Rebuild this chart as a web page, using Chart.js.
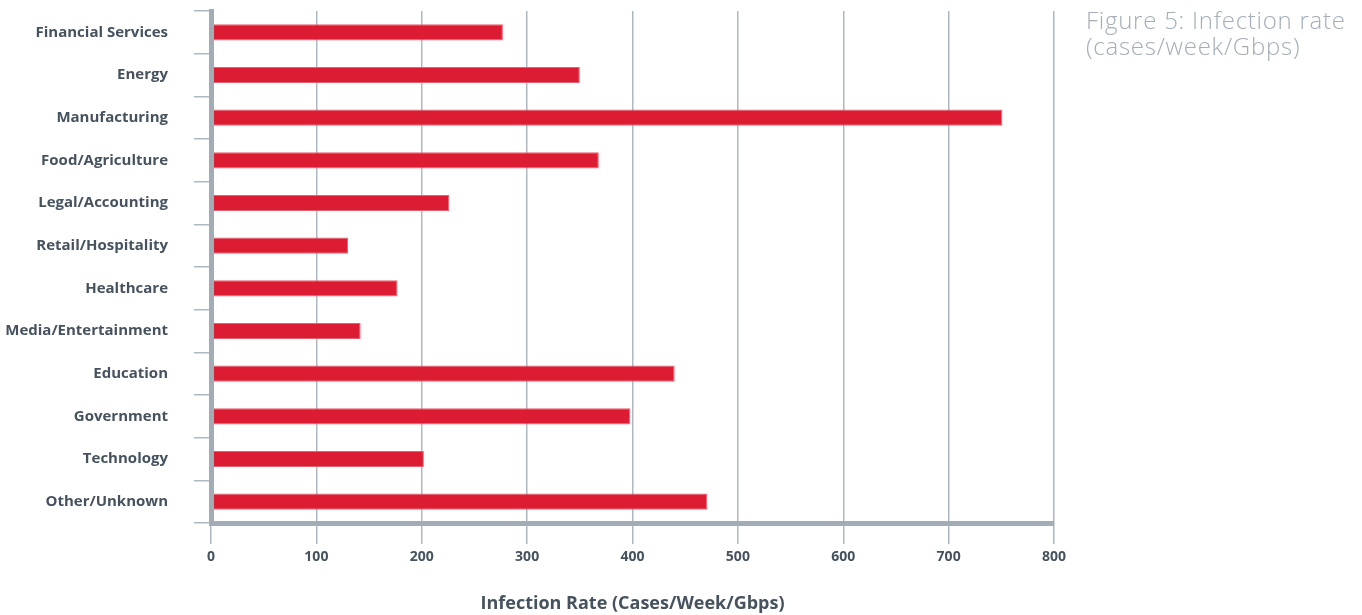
<!DOCTYPE html>
<html>
<head>
<meta charset="utf-8">
<script src="https://cdn.jsdelivr.net/npm/chart.js@4.4.1/dist/chart.umd.min.js"></script>
<style>
  html, body { margin: 0; padding: 0; background: #ffffff; }
  #wrap { position: relative; width: 1362px; height: 615px; }
  #caption {
    position: absolute; left: 1086px; top: 7px;
    font-family: "Open Sans", sans-serif; font-size: 24px; font-weight: 300; line-height: 26px;
    letter-spacing: 0.75px;
    color: #a3aeb8; white-space: nowrap;
  }
</style>
</head>
<body>
<div id="wrap">
  <canvas id="chart" width="1362" height="615"></canvas>
  <div id="caption">Figure 5: Infection rate<br>(cases/week/Gbps)</div>
</div>
<script>
// Sectors, top to bottom
const sectors = [
  'Financial Services', 'Energy', 'Manufacturing', 'Food/Agriculture',
  'Legal/Accounting', 'Retail/Hospitality', 'Healthcare', 'Media/Entertainment',
  'Education', 'Government', 'Technology', 'Other/Unknown'
];
// Infection rate per sector (cases/week/Gbps)
const infectionRate = [277, 350, 751, 368, 226, 130, 177, 142, 440, 398, 202, 471];
// Value axis ticks
const rateTicks = [0, 100, 200, 300, 400, 500, 600, 700, 800];

const labelColor = '#46525e';
const axisGray = '#a3acb5';
const gridGray = '#aeb8c1';

new Chart(document.getElementById('chart'), {
  type: 'bar',
  data: {
    labels: sectors,
    datasets: [{
      data: infectionRate,
      backgroundColor: '#dc1c33',
      borderColor: '#e4606f',
      borderWidth: 1,
      borderSkipped: 'start',
      barPercentage: 0.38,
      categoryPercentage: 1.0
    }]
  },
  options: {
    indexAxis: 'y',
    responsive: false,
    animation: false,
    layout: { padding: { top: 11, right: 308, bottom: 0, left: 0 } },
    plugins: { legend: { display: false }, tooltip: { enabled: false } },
    scales: {
      x: {
        min: rateTicks[0],
        max: rateTicks[rateTicks.length - 1],
        afterBuildTicks(scale) { scale.ticks = rateTicks.map(v => ({ value: v })); },
        afterFit(scale) { scale.height = 92; },
        grid: { color: gridGray, lineWidth: 1.5, tickLength: 21, drawTicks: true },
        border: { display: true, color: axisGray, width: 5, z: 1 },
        ticks: {
          color: labelColor, padding: 5,
          font: { family: 'Open Sans', size: 14, weight: 'bold' }
        },
        title: {
          display: true,
          text: 'Infection Rate (Cases/Week/Gbps)',
          color: labelColor,
          font: { family: 'Open Sans', size: 18, weight: 'bold' },
          padding: { top: 0, bottom: 0 }
        }
      },
      y: {
        afterFit(scale) {
          scale.width = 211;
          scale.paddingTop = 0;
          scale.paddingBottom = 0;
        },
        grid: { offset: true, drawOnChartArea: false, color: gridGray, lineWidth: 1.5, tickLength: 17 },
        border: { display: true, color: axisGray, width: 5, z: 1 },
        ticks: {
          color: labelColor, padding: 26,
          font: { family: 'Open Sans', size: 15, weight: 'bold' }
        }
      }
    }
  }
});
</script>
</body>
</html>
